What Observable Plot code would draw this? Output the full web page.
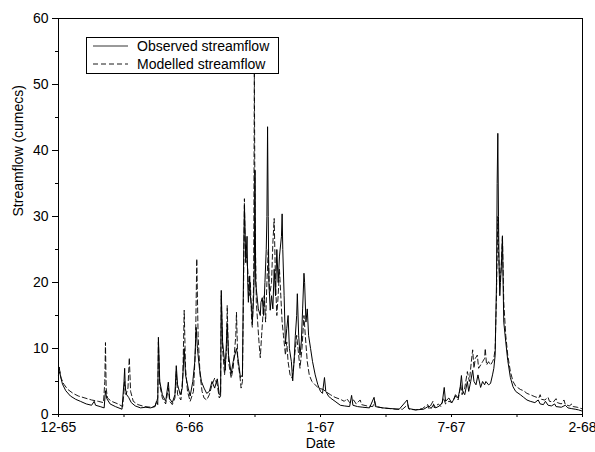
<!DOCTYPE html>
<html>
<head>
<meta charset="utf-8">
<script src="https://cdn.jsdelivr.net/npm/d3@7"></script>
<script src="https://cdn.jsdelivr.net/npm/@observablehq/plot@0.6"></script>
<style>
  html, body { margin: 0; padding: 0; background: white; }
</style>
</head>
<body>
<div id="chart"></div>
<script>
// Days counted from 1 December 1965
const xTickDays = [0, 198, 396, 594, 792];
const xTickLabels = ["12-65", "6-66", "1-67", "7-67", "2-68"];
const xMinorDays = [99, 297, 495, 693];
const yTicks = [0, 10, 20, 30, 40, 50, 60];
const yMinor = [5, 15, 25, 35, 45, 55];

const seriesNames = ["Observed streamflow", "Modelled streamflow"];

const obsDay = [0,1,3,6,11,18,26,33,42,50,54,56,63,69,71,73,78,86,96,99,100,101,103,106,110,116,124,132,139,146,148,150,151,153,157,162,166,168,172,176,178,180,184,187,190,192,196,199,203,206,208,210,213,216,220,224,228,232,236,240,243,245,246,248,251,252,255,257,261,264,269,272,275,278,280,281,282,283,285,286,287,289,290,292,293,295,296,297,298,300,302,305,306,308,310,312,314,315,316,317,318,320,322,324,326,328,330,332,334,337,338,339,341,343,345,347,349,352,354,356,358,360,361,363,365,367,369,371,372,374,376,378,381,384,388,392,396,399,402,404,408,411,418,426,432,440,443,445,452,460,470,477,479,490,502,515,527,529,540,552,560,563,567,570,576,580,583,585,590,594,597,600,604,607,609,611,614,616,618,620,623,626,628,631,634,638,641,644,646,650,653,656,658,660,662,663,664,665,666,667,668,670,671,672,673,676,679,683,687,691,698,703,708,713,720,725,728,733,736,740,745,750,752,760,766,770,775,781,786,792];
const obsFlow = [6.5,7.2,5.8,4.6,3.6,2.8,2.3,2.0,1.6,1.4,2.0,1.4,1.2,1.0,3.6,2.4,1.6,1.2,0.8,5.0,7.0,4.0,3.0,2.6,1.8,1.3,1.0,1.1,1.0,1.2,2.0,1.5,11.7,5.0,3.0,2.0,4.9,2.4,1.8,3.0,7.4,4.5,3.0,4.0,10.0,6.0,4.0,2.8,5.0,8.0,13.2,10.0,7.0,5.0,4.0,3.2,3.5,5.0,4.0,5.4,3.0,3.0,18.8,11.0,8.0,6.7,13.8,9.0,6.2,8.0,10.0,8.0,5.6,6.0,25.0,31.7,28.0,23.0,27.0,20.0,17.0,21.0,18.0,16.0,14.0,18.0,22.0,37.0,20.0,18.0,16.0,15.0,17.0,17.7,15.0,20.0,25.0,30.0,43.6,30.0,20.0,15.8,18.0,16.0,22.0,18.0,25.0,20.0,24.0,27.0,30.4,25.0,18.0,10.7,13.0,15.0,10.0,8.0,5.1,8.0,12.0,15.0,18.3,12.0,9.0,11.0,16.0,21.4,20.0,14.0,16.0,12.0,10.0,8.0,6.0,4.5,3.5,3.2,5.6,3.5,2.8,2.5,2.0,1.4,1.3,1.2,2.9,1.4,1.2,1.1,1.0,2.6,1.2,1.0,0.9,0.8,2.2,0.9,0.7,0.8,1.3,0.9,1.5,1.0,1.3,1.8,4.1,2.0,2.5,1.8,2.2,3.0,2.5,4.0,5.9,3.5,3.0,4.0,5.0,3.5,5.0,6.7,5.0,4.5,6.0,4.1,5.0,4.5,5.0,4.5,4.7,6.0,7.0,9.0,20.0,35.0,42.6,30.0,22.0,18.0,20.0,24.0,27.0,20.0,14.0,11.0,8.2,5.6,4.2,3.5,3.0,2.6,2.2,2.0,1.8,2.2,1.6,1.5,2.0,1.4,1.3,1.6,1.2,1.1,1.4,1.0,0.9,0.8,0.7,0.5];

const modDay = [0,2,4,8,14,22,30,40,50,60,68,70,71,72,74,80,90,97,99,100,102,105,107,109,113,120,130,140,146,150,151,153,157,162,166,168,172,176,178,180,185,188,190,192,195,199,204,207,209,211,214,217,220,224,228,232,236,240,243,245,246,248,251,254,255,257,261,264,268,269,271,274,276,278,280,281,282,284,286,288,290,292,293,295,296,297,299,301,303,305,307,309,311,313,315,317,319,322,324,326,328,330,332,334,336,338,340,343,345,347,350,353,355,358,360,362,365,368,371,373,376,379,383,388,393,400,405,411,418,426,432,436,440,446,450,456,458,466,475,478,480,490,500,510,520,528,530,540,550,558,560,566,568,574,578,582,585,590,595,600,604,608,610,614,618,621,624,626,628,630,633,635,638,641,644,645,647,650,653,656,658,660,662,664,665,667,669,671,673,676,679,683,687,691,698,703,708,713,720,726,728,730,735,740,742,748,752,754,760,764,766,772,776,778,784,790,792];
const modFlow = [6.0,6.5,5.5,4.6,3.8,3.2,2.8,2.5,2.2,2.0,1.8,5.0,10.9,4.0,2.5,2.0,1.6,1.2,3.5,5.0,3.0,4.0,8.6,3.5,2.0,1.5,1.2,1.1,1.3,2.5,11.0,4.5,2.5,1.6,4.0,2.0,1.5,2.5,6.5,3.0,2.2,6.0,15.8,7.0,3.5,2.0,3.5,10.0,23.6,12.0,6.0,3.5,2.5,2.2,3.0,4.5,5.5,4.5,2.5,2.8,18.0,10.0,6.0,10.0,16.5,8.0,5.5,7.0,12.0,15.5,8.0,6.0,4.0,5.0,22.0,32.7,26.0,24.0,22.0,18.0,20.0,14.0,13.2,20.0,52.0,30.0,17.0,14.0,11.0,8.6,12.0,15.0,18.0,14.0,20.0,25.0,18.0,20.0,26.0,29.7,20.0,15.0,18.0,22.0,18.0,14.0,12.0,9.0,11.0,8.0,6.0,5.5,7.0,10.0,12.0,10.0,7.0,10.0,15.0,12.0,8.0,6.0,5.0,4.5,4.0,3.8,3.4,3.0,2.6,2.3,2.0,2.4,1.8,2.2,1.6,2.2,1.5,1.3,1.2,2.0,1.2,1.0,0.9,0.8,0.8,1.5,0.8,0.7,0.9,1.5,0.9,2.0,1.0,1.6,1.2,2.5,1.6,2.0,1.8,2.8,2.2,4.5,3.0,4.0,6.5,5.0,8.0,9.8,7.0,8.5,9.0,7.0,7.5,8.0,8.5,10.0,7.5,8.0,7.5,8.0,8.5,10.0,18.0,30.0,25.0,20.0,22.0,27.1,17.0,12.0,9.0,6.5,5.0,4.3,3.8,3.6,3.2,3.0,2.7,2.5,3.0,2.3,2.2,2.6,2.0,1.9,2.4,1.8,1.6,2.2,1.5,1.3,1.6,1.2,1.1,0.9,0.9];

const observed = obsDay.map((d, i) => ({day: d, flow: obsFlow[i]}));
const modelled = modDay.map((d, i) => ({day: d, flow: modFlow[i]}));
const tickLabelMap = new Map(xTickDays.map((d, i) => [d, xTickLabels[i]]));

const chart = Plot.plot({
  width: 595,
  height: 452,
  marginLeft: 58,
  marginRight: 13,
  marginTop: 18,
  marginBottom: 38,
  style: {fontFamily: "'Liberation Sans', Arial, sans-serif", fontSize: "14px", background: "white", color: "black"},
  x: {domain: [0, 792]},
  y: {domain: [0, 60]},
  marks: [
    Plot.axisY({ticks: yTicks, tickSize: 6, tickPadding: 4, label: null, fontSize: 14}),
    Plot.axisY({ticks: yMinor, tickSize: 3, text: null, label: null}),
    Plot.axisX({ticks: xTickDays, tickFormat: d => tickLabelMap.get(d), tickSize: 3, tickPadding: 5, label: null, fontSize: 14}),
    Plot.axisX({ticks: xMinorDays, tickSize: 3, text: null, label: null}),
    Plot.line(modelled, {x: "day", y: "flow", stroke: "black", strokeWidth: 0.9, strokeDasharray: "5,3"}),
    Plot.line(observed, {x: "day", y: "flow", stroke: "black", strokeWidth: 1}),
    Plot.frame({stroke: "black", strokeWidth: 1}),
    Plot.text(["Date"], {frameAnchor: "bottom", dy: 33, fontSize: 14, fill: "black"}),
    Plot.text(["Streamflow (cumecs)"], {frameAnchor: "left", dx: -40, rotate: -90, fontSize: 14, fill: "black"})
  ]
});

document.getElementById("chart").appendChild(chart);

// Legend box inside plot area
const svg = d3.select(chart);
const lg = svg.append("g")
  .attr("font-family", "'Liberation Sans', Arial, sans-serif")
  .attr("font-size", 14)
  .attr("text-anchor", "start");
lg.append("rect").attr("x", 86.5).attr("y", 37.5).attr("width", 192).attr("height", 36)
  .attr("fill", "white").attr("stroke", "black").attr("stroke-width", 1);
seriesNames.forEach((name, i) => {
  const yy = 46 + i * 18;
  lg.append("line").attr("x1", 93).attr("x2", 128).attr("y1", yy).attr("y2", yy)
    .attr("stroke", "black").attr("stroke-width", i === 0 ? 0.8 : 0.9)
    .attr("stroke-dasharray", i === 0 ? null : "5,3");
  lg.append("text").attr("x", 137).attr("y", yy).attr("dy", "0.35em")
    .attr("text-anchor", "start").attr("fill", "black").text(name);
});
</script>
</body>
</html>
